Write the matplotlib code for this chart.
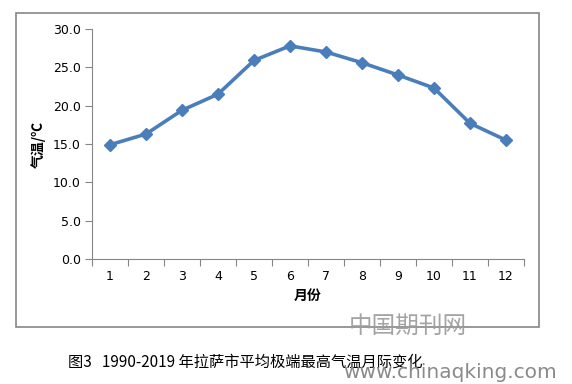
import matplotlib.pyplot as plt
from matplotlib.patches import Rectangle

plt.rcParams['font.family'] = ['Noto Sans CJK SC', 'DejaVu Sans']

# 月份和平均极端最高气温
months = [1, 2, 3, 4, 5, 6, 7, 8, 9, 10, 11, 12]
temps = [14.9, 16.3, 19.4, 21.5, 25.9, 27.8, 27.0, 25.6, 24.0, 22.3, 17.7, 15.5]
yticks = [0, 5, 10, 15, 20, 25, 30]

fig = plt.figure(figsize=(5.72, 3.84), dpi=100)

# ramme rundt diagrammet
fig.patches.append(Rectangle((16 / 572, 1 - 327 / 384), 523 / 572, 314 / 384,
                             transform=fig.transFigure, fill=False,
                             edgecolor='#868686', linewidth=1.2))

ax = fig.add_axes([92 / 572, 1 - 259 / 384, 432 / 572, 230 / 384])
ax.plot(months, temps, color='#4A7EBB', linewidth=2.6, marker='D', markersize=6,
        clip_on=False)

ax.set_xlim(0.5, 12.5)
ax.set_ylim(0, 30)
ax.set_yticks(yticks)
ax.set_yticklabels([f'{v:.1f}' for v in yticks], fontsize=9, family='DejaVu Sans')
ax.set_xticks([m - 0.5 for m in months] + [12.5])
ax.set_xticklabels([])
ax.set_xticks(months, minor=True)
ax.set_xticklabels([str(m) for m in months], minor=True, fontsize=9, family='DejaVu Sans')
ax.tick_params(axis='x', which='major', length=5, color='#868686', direction='out')
ax.tick_params(axis='x', which='minor', length=0, pad=8)
ax.tick_params(axis='y', length=5, color='#868686', direction='out', pad=3)

for side in ['top', 'right']:
    ax.spines[side].set_visible(False)
for side in ['left', 'bottom']:
    ax.spines[side].set_color('#868686')

ax.set_xlabel('月份', fontsize=10, fontweight='bold', labelpad=4)
ax.set_ylabel('气温/℃', fontsize=10, fontweight='bold')
ax.yaxis.set_label_coords(-46 / 432, 0.5)

fig.text(68 / 572, 1 - 362 / 384, '图3   1990-2019 年拉萨市平均极端最高气温月际变化',
         fontsize=11, va='center', ha='left')

# vannmerke
fig.text(408 / 572, 1 - 326 / 384, '中国期刊网', fontsize=17, color='#9a9a9a',
         va='center', ha='center', alpha=0.9)
fig.text(450 / 572, 1 - 373 / 384, 'www.chinaqking.com', fontsize=14.5, color='#8a8a8a',
         va='center', ha='center', family='DejaVu Sans')

plt.savefig('out.png', dpi=100)
